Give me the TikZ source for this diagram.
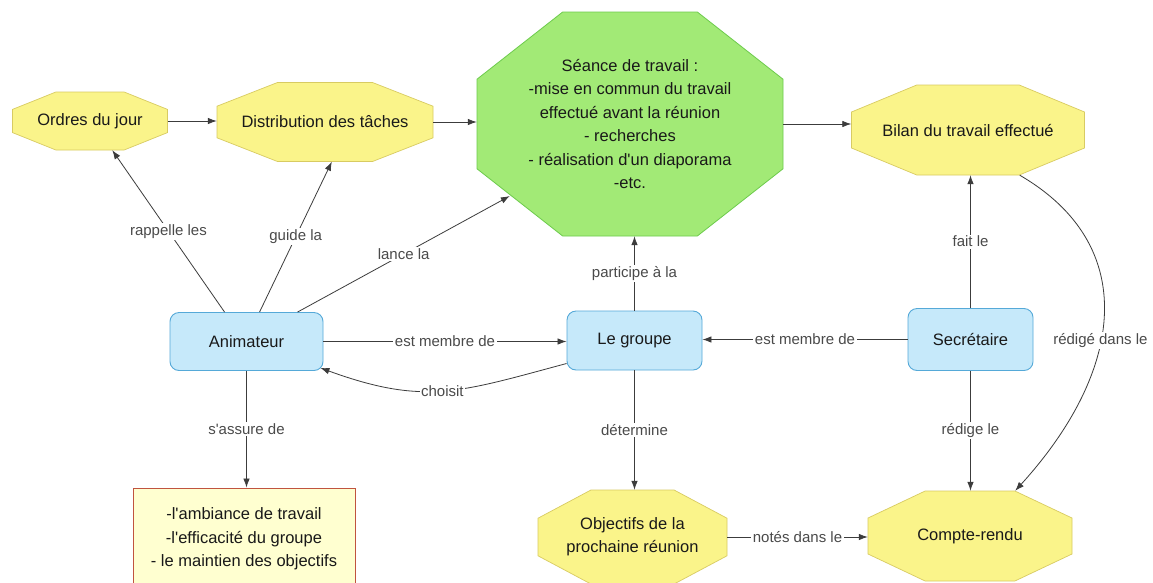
\documentclass[tikz,border=0pt]{standalone}
\usepackage{fontspec}
\setmainfont{Liberation Sans}[Ligatures=TeXOff]
\usetikzlibrary{arrows.meta,calc}
\definecolor{yfill}{HTML}{FAF48A}
\definecolor{ydraw}{HTML}{D8CB62}
\definecolor{gfill}{HTML}{A2EA76}
\definecolor{gdraw}{HTML}{6DCB4C}
\definecolor{bfill}{HTML}{C6E9FA}
\definecolor{bdraw}{HTML}{55A9D8}
\definecolor{pfill}{HTML}{FFFFD0}
\definecolor{pdraw}{HTML}{C0533F}
\definecolor{edgec}{HTML}{3C3C3C}
\definecolor{labc}{HTML}{4A4A4A}
\tikzset{
  txt/.style={draw=none, align=center, inner sep=0pt, text=black!90,
    font=\fontsize{16.5}{23.4}\selectfont},
  yoct/.style={fill=yfill, draw=ydraw, line width=0.7pt},
  goct/.style={fill=gfill, draw=gdraw, line width=0.8pt},
  bnode/.style={txt, fill=bfill, draw=bdraw, line width=0.9pt, rounded corners=9pt},
  pnode/.style={txt, fill=pfill, draw=pdraw, line width=0.9pt},
  conn/.style={draw=edgec, line width=0.8pt, -{Latex[length=9pt,width=6.5pt]}},
  lab/.style={fill=white, text=labc, inner sep=1.5pt,
    font=\fontsize{15}{18}\selectfont},
}
\newcommand\octnode[7]{%
  \path[#7] ({#2-0.5*#4},{#3-0.2*#5}) -- ({#2-0.22*#4},{#3-0.5*#5})
    -- ({#2+0.22*#4},{#3-0.5*#5}) -- ({#2+0.5*#4},{#3-0.2*#5})
    -- ({#2+0.5*#4},{#3+0.2*#5}) -- ({#2+0.22*#4},{#3+0.5*#5})
    -- ({#2-0.22*#4},{#3+0.5*#5}) -- ({#2-0.5*#4},{#3+0.2*#5}) -- cycle;
  \node[txt, minimum width=#4pt, minimum height=#5pt] (#1) at (#2,#3) {#6};
}
\begin{document}
\begin{tikzpicture}[x=1pt, y=-1pt]
\useasboundingbox[fill=white] (0,0) rectangle (1153,582);

% octagon nodes
\octnode{ordres}{90}{121}{155}{58}{Ordres du jour}{yoct}
\octnode{distrib}{325}{122}{216}{79}{Distribution des tâches}{yoct}
\octnode{seance}{630}{124}{306}{224}{Séance de travail :\\-mise en commun du travail\\effectué avant la réunion\\- recherches\\- réalisation d'un diaporama\\-etc.}{goct}
\octnode{bilan}{968}{130}{233}{90}{Bilan du travail effectué}{yoct}
\octnode{obj}{632.5}{537}{189}{94}{Objectifs de la\\prochaine réunion}{yoct}
\octnode{compte}{970}{536}{204}{90}{Compte-rendu}{yoct}

% rounded nodes
\node[bnode, minimum width=153pt, minimum height=58pt] (anim) at (246.5,341.5) {Animateur};
\node[bnode, minimum width=135pt, minimum height=59pt] (groupe) at (634.5,340.5) {Le groupe};
\node[bnode, minimum width=125pt, minimum height=62pt] (sec) at (970.5,339.5) {Secrétaire};

% bottom-left box
\node[pnode, minimum width=222pt, minimum height=102pt] (box) at (244,539)
  {-l'ambiance de travail\\-l'efficacité du groupe\\- le maintien des objectifs};

% connectors
\draw[conn] (ordres.east) -- (ordres.east -| distrib.west);
\draw[conn] (distrib.east) -- (distrib.east -| seance.west);
\draw[conn] (seance.east) -- (seance.east -| bilan.west);

\draw[conn] ($(anim.north west)+(55,0)$) -- node[lab]{rappelle les} ($(ordres.south west)+(100,0)$);
\draw[conn] ($(anim.north west)+(90,0)$) -- node[lab]{guide la} ($(distrib.south west)+(115,0)$);
\draw[conn] ($(anim.north west)+(128,0)$) -- node[lab]{lance la} ($(seance.west)+(33,72)$);

\draw[conn] (anim.east) -- node[lab]{est membre de} (anim.east -| groupe.west);
\draw[conn] (sec.west) -- node[lab]{est membre de} (sec.west -| groupe.east);
\draw[conn] ($(groupe.west)+(0,23)$) to[out=195, in=-20, looseness=1.15] node[lab, pos=0.5]{choisit} ($(anim.south east)+(-3,-3)$);

\draw[conn] (groupe.north) -- node[lab]{participe à la} (groupe.north |- seance.south);
\draw[conn] (groupe.south) -- node[lab]{détermine} (groupe.south |- obj.north);
\draw[conn] (sec.north) -- node[lab]{fait le} (sec.north |- bilan.south);
\draw[conn] (sec.south) -- node[lab]{rédige le} (sec.south |- compte.north);
\draw[conn] (anim.south) -- node[lab]{s'assure de} (anim.south |- box.north);
\draw[conn] (obj.east) -- node[lab]{notés dans le} (obj.east -| compte.west);

\draw[conn] ($(bilan.south east)+(-65,0)$) .. controls (1140,245) and (1125,370) .. node[lab, pos=0.58]{rédigé dans le} ($(compte.north east)+(-57,0)$);
\end{tikzpicture}
\end{document}
